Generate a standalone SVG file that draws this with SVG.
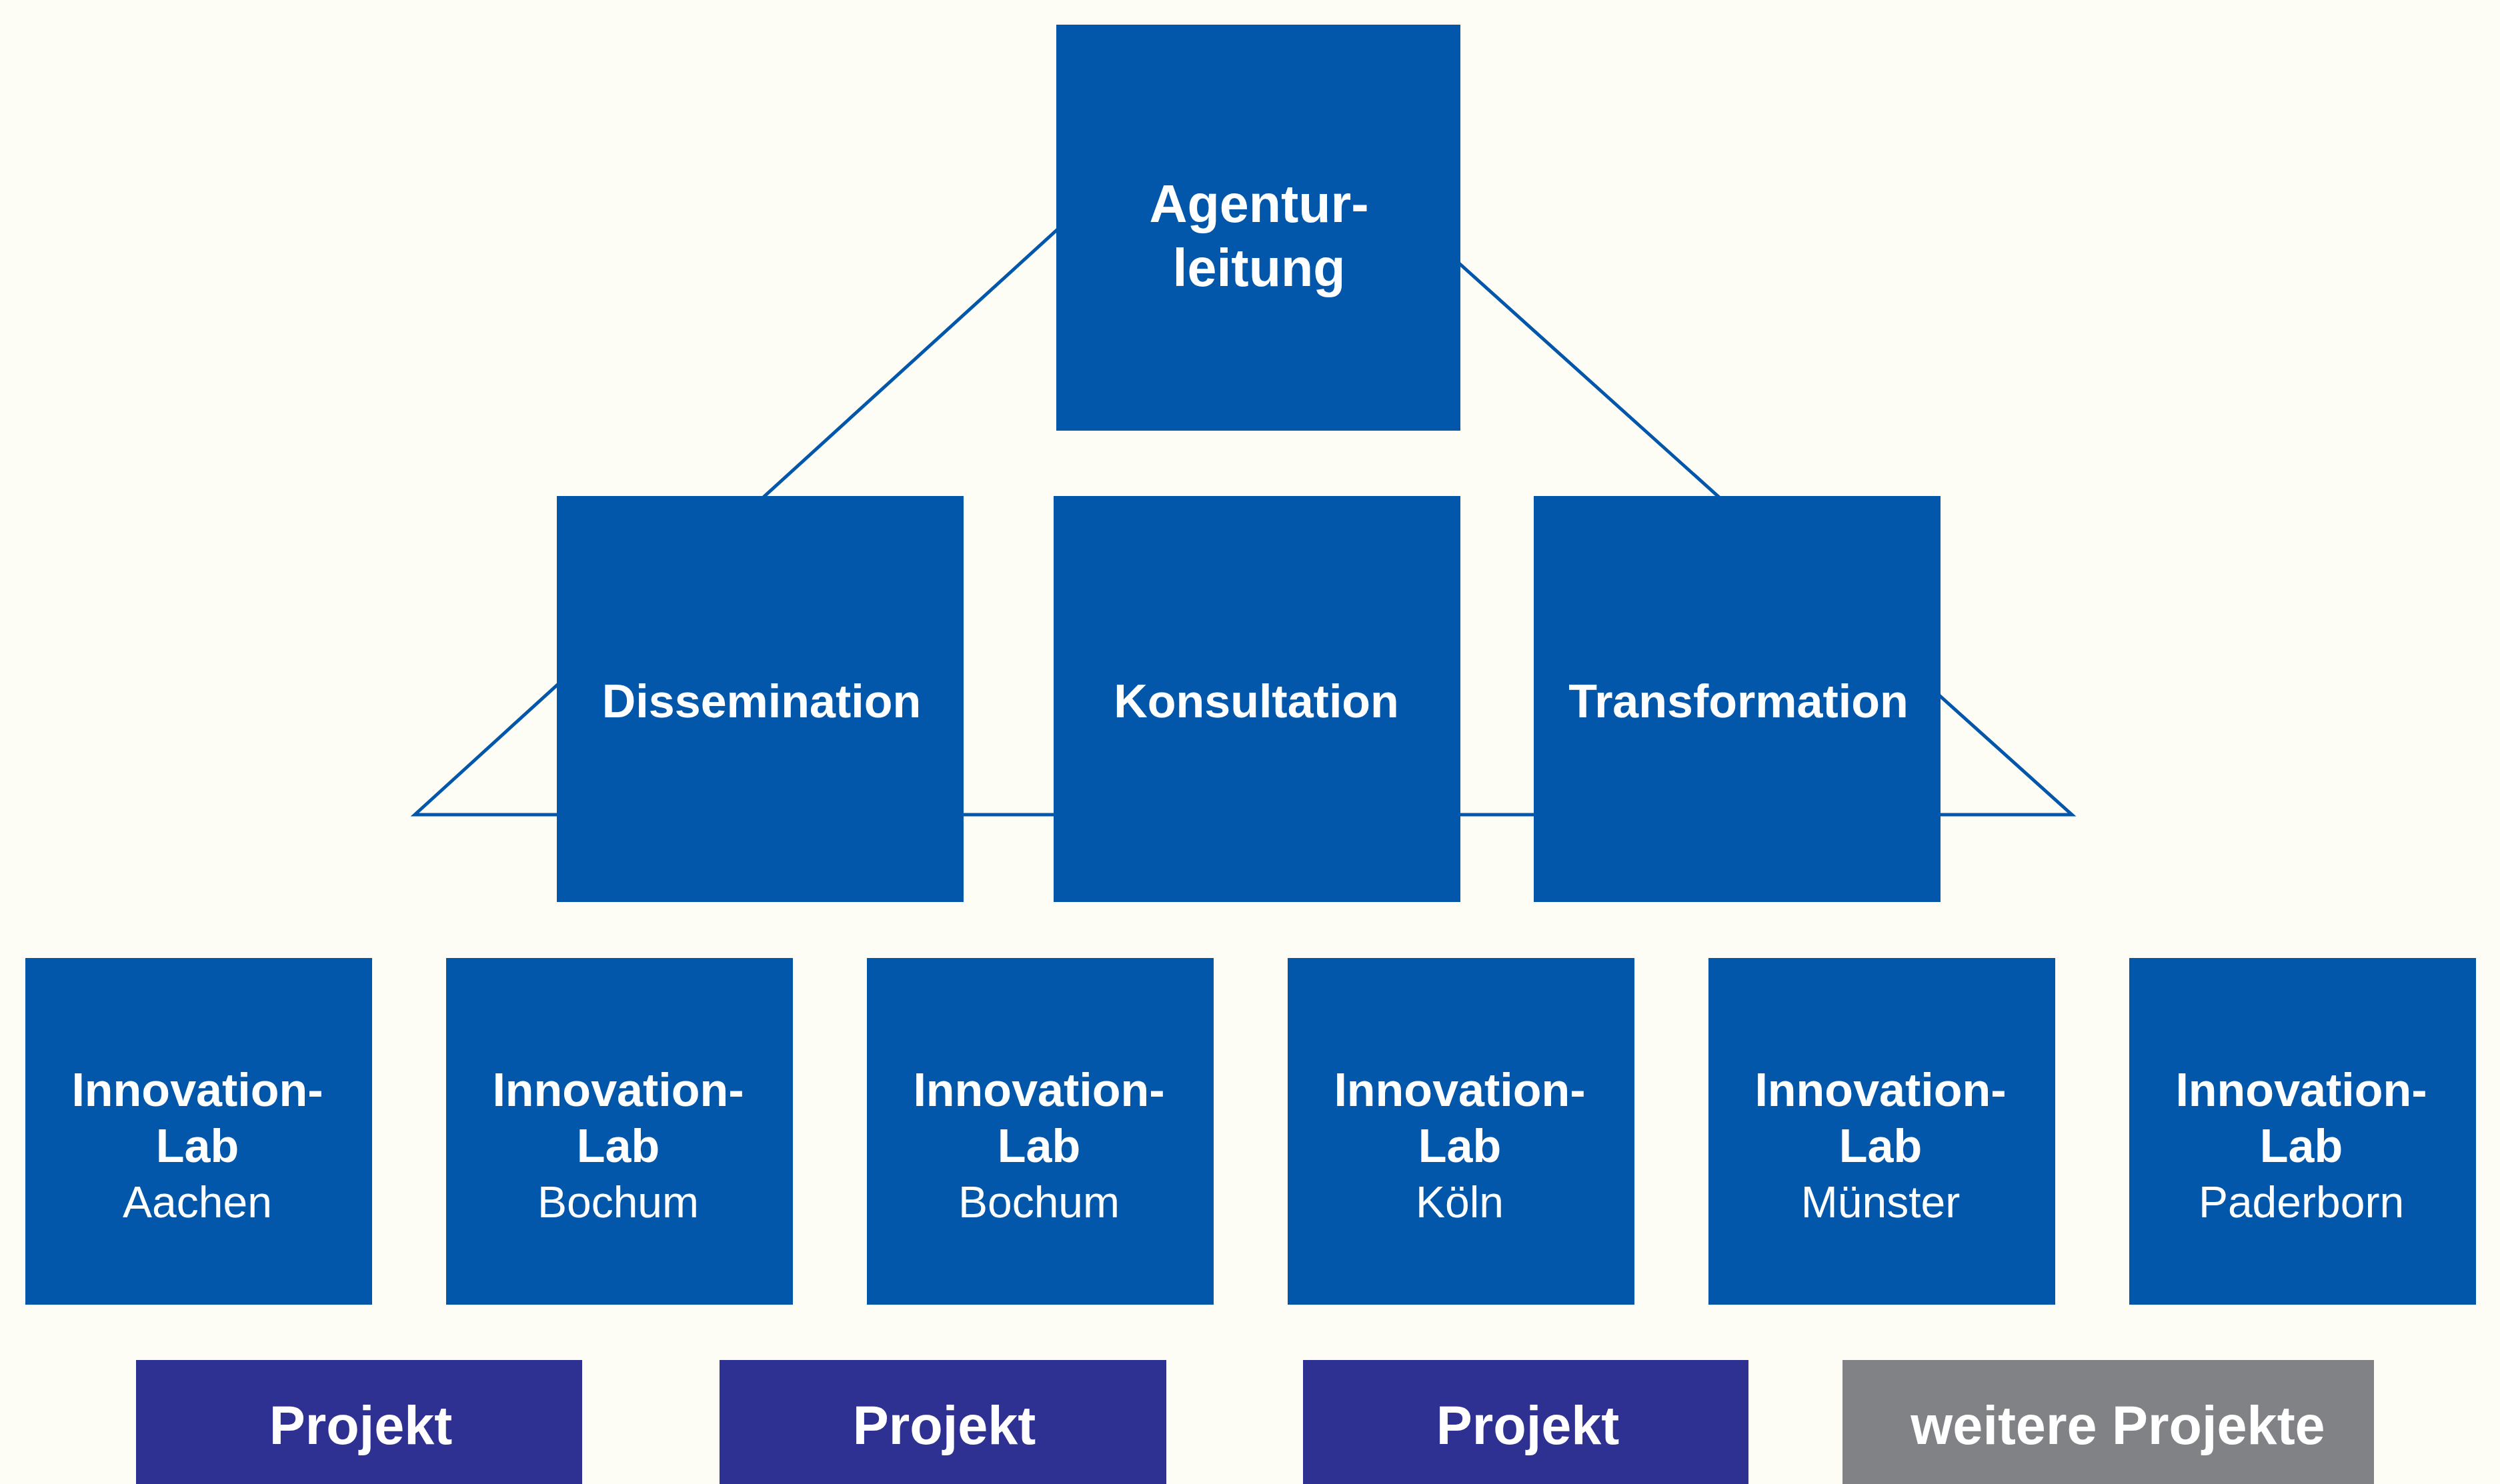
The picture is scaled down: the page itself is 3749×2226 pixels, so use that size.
<svg xmlns="http://www.w3.org/2000/svg" width="3749" height="2226" viewBox="0 0 3749 2226">
<style>
.bg{fill:#FDFDF6}
.blue{fill:#0357AB}
.proj{fill:#2E3192}
.grey{fill:#818285}
.conn{fill:none;stroke:#0357AB;stroke-width:5;stroke-miterlimit:20}
text{font-family:"Liberation Sans",Arial,Helvetica,sans-serif;fill:#FFFFFF;text-anchor:middle}
.t1{font-weight:bold;font-size:79px}
.t2{font-weight:bold;font-size:70px}
.t3{font-weight:bold;font-size:70px}
.t4{font-size:66px}
.t5{font-weight:bold;font-size:81px}
</style>
<rect class="bg" x="0" y="0" width="3749" height="2226"/>
<g id="connectors">
<polygon class="conn" points="622,1222 1857,97 3107,1222"/>
</g>
<g id="agenturleitung">
<rect class="blue" x="1584" y="37" width="606" height="609"/>
<text class="t1" x="1888" y="333">Agentur-</text>
<text class="t1" x="1888" y="429">leitung</text>
</g>
<g id="dissemination">
<rect class="blue" x="835" y="744" width="610" height="609"/>
<text class="t2" x="1142" y="1076">Dissemination</text>
</g>
<g id="konsultation">
<rect class="blue" x="1580" y="744" width="610" height="609"/>
<text class="t2" x="1884" y="1076">Konsultation</text>
</g>
<g id="transformation">
<rect class="blue" x="2300" y="744" width="610" height="609"/>
<text class="t2" x="2607" y="1076">Transformation</text>
</g>
<g id="lab-aachen">
<rect class="blue" x="38" y="1437" width="520" height="520"/>
<text class="t3" x="296" y="1659">Innovation-</text>
<text class="t3" x="296" y="1743">Lab</text>
<text class="t4" x="296" y="1826">Aachen</text>
</g>
<g id="lab-bochum-1">
<rect class="blue" x="669" y="1437" width="520" height="520"/>
<text class="t3" x="927" y="1659">Innovation-</text>
<text class="t3" x="927" y="1743">Lab</text>
<text class="t4" x="927" y="1826">Bochum</text>
</g>
<g id="lab-bochum-2">
<rect class="blue" x="1300" y="1437" width="520" height="520"/>
<text class="t3" x="1558" y="1659">Innovation-</text>
<text class="t3" x="1558" y="1743">Lab</text>
<text class="t4" x="1558" y="1826">Bochum</text>
</g>
<g id="lab-koeln">
<rect class="blue" x="1931" y="1437" width="520" height="520"/>
<text class="t3" x="2189" y="1659">Innovation-</text>
<text class="t3" x="2189" y="1743">Lab</text>
<text class="t4" x="2189" y="1826">Köln</text>
</g>
<g id="lab-muenster">
<rect class="blue" x="2562" y="1437" width="520" height="520"/>
<text class="t3" x="2820" y="1659">Innovation-</text>
<text class="t3" x="2820" y="1743">Lab</text>
<text class="t4" x="2820" y="1826">Münster</text>
</g>
<g id="lab-paderborn">
<rect class="blue" x="3193" y="1437" width="520" height="520"/>
<text class="t3" x="3451" y="1659">Innovation-</text>
<text class="t3" x="3451" y="1743">Lab</text>
<text class="t4" x="3451" y="1826">Paderborn</text>
</g>
<g id="projekt-1">
<rect class="proj" x="204" y="2040" width="669" height="186"/>
<text class="t5" x="541" y="2166">Projekt</text>
</g>
<g id="projekt-2">
<rect class="proj" x="1079" y="2040" width="670" height="186"/>
<text class="t5" x="1416" y="2166">Projekt</text>
</g>
<g id="projekt-3">
<rect class="proj" x="1954" y="2040" width="668" height="186"/>
<text class="t5" x="2291" y="2166">Projekt</text>
</g>
<g id="weitere-projekte">
<rect class="grey" x="2763" y="2040" width="797" height="186"/>
<text class="t5" x="3176" y="2166">weitere Projekte</text>
</g>
</svg>
